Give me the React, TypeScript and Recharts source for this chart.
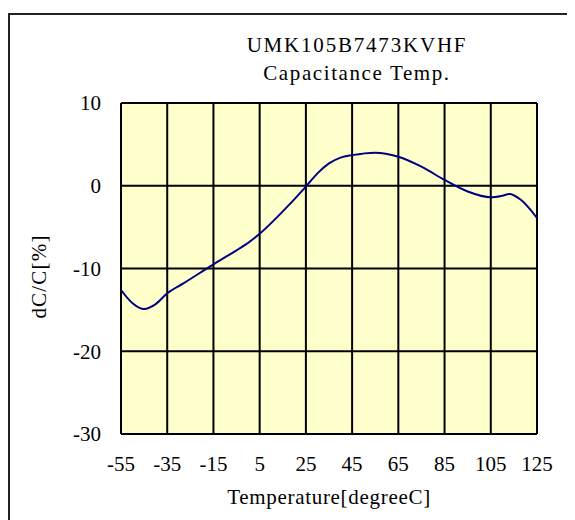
import React from "react";
import { LineChart, Line, XAxis, YAxis, CartesianGrid } from "recharts";

const temps = [-55, -50, -45, -40, -35, -28, -15, -5, 0, 5, 15, 25, 30, 35, 40, 45, 55, 65, 75, 85, 95, 105, 110, 113, 118, 125];
const dcValues = [-12.6, -14.2, -14.9, -14.3, -13.0, -11.8, -9.5, -7.8, -6.9, -5.8, -3.1, -0.1, 1.5, 2.7, 3.4, 3.7, 4.0, 3.5, 2.3, 0.7, -0.7, -1.4, -1.2, -1.0, -1.7, -3.9];
const xTicks = [-55, -35, -15, 5, 25, 45, 65, 85, 105, 125];
const yTicks = [-30, -20, -10, 0, 10];
const titleLines = ["UMK105B7473KVHF", "Capacitance Temp."];
const xLabel = "Temperature[degreeC]";
const yLabel = "dC/C[%]";

const data = temps.map((t, i) => ({ t, v: dcValues[i] }));

const FONT = "'Liberation Serif', 'Times New Roman', serif";
const W = 567;
const H = 512;

export default function App() {
  return (
    <div style={{ position: "relative", width: W, height: H, overflow: "hidden" }}>
      <div
        style={{
          position: "absolute",
          left: 0,
          top: 5,
          width: W + 20,
          height: H + 20,
          borderTop: "2px solid #222",
          borderLeft: "2px solid #222",
          boxSizing: "border-box",
        }}
      />
      <svg width={W} height={H} style={{ position: "absolute", left: 0, top: 0 }}>
        <text x={349} y={44} textAnchor="middle" fontFamily={FONT} fontSize={21} letterSpacing={1.8} fill="#000">
          {titleLines[0]}
        </text>
        <text x={349} y={72} textAnchor="middle" fontFamily={FONT} fontSize={21} letterSpacing={1.6} fill="#000">
          {titleLines[1]}
        </text>
      </svg>
      <div style={{ position: "absolute", left: 0, top: 0 }}>
        <LineChart width={W} height={H} data={data} margin={{ top: 95, right: 38, left: 0, bottom: 26 }}>
          <CartesianGrid stroke="#000" strokeWidth={2} fill="#FFFFCC" fillOpacity={1} />
          <XAxis
            dataKey="t"
            type="number"
            domain={[-55, 125]}
            ticks={xTicks}
            interval={0}
            height={60}
            axisLine={false}
            tickLine={false}
            tickSize={10}
            tickMargin={12}
            tick={{ fontFamily: FONT, fontSize: 21, fill: "#000" }}
            label={{
              content: ({ viewBox }: any) => (
                <text
                  x={viewBox.x + viewBox.width / 2}
                  y={viewBox.y + 70}
                  textAnchor="middle"
                  fontFamily={FONT}
                  fontSize={21}
                  letterSpacing={0.7}
                  fill="#000"
                >
                  {xLabel}
                </text>
              ),
            }}
          />
          <YAxis
            type="number"
            domain={[-30, 10]}
            ticks={yTicks}
            interval={0}
            width={113}
            axisLine={false}
            tickLine={false}
            tickSize={10}
            tickMargin={10}
            tick={{ fontFamily: FONT, fontSize: 21, fill: "#000" }}
            label={{
              content: ({ viewBox }: any) => {
                const cx = 38;
                const cy = viewBox.y + viewBox.height / 2 + 8;
                return (
                  <text
                    x={cx}
                    y={cy}
                    transform={`rotate(-90 ${cx} ${cy})`}
                    textAnchor="middle"
                    fontFamily={FONT}
                    fontSize={21}
                    letterSpacing={1.2}
                    fill="#000"
                  >
                    {yLabel}
                  </text>
                );
              },
            }}
          />
          <Line
            type="monotone"
            dataKey="v"
            stroke="#000080"
            strokeWidth={2}
            dot={false}
            isAnimationActive={false}
          />
        </LineChart>
      </div>
    </div>
  );
}
